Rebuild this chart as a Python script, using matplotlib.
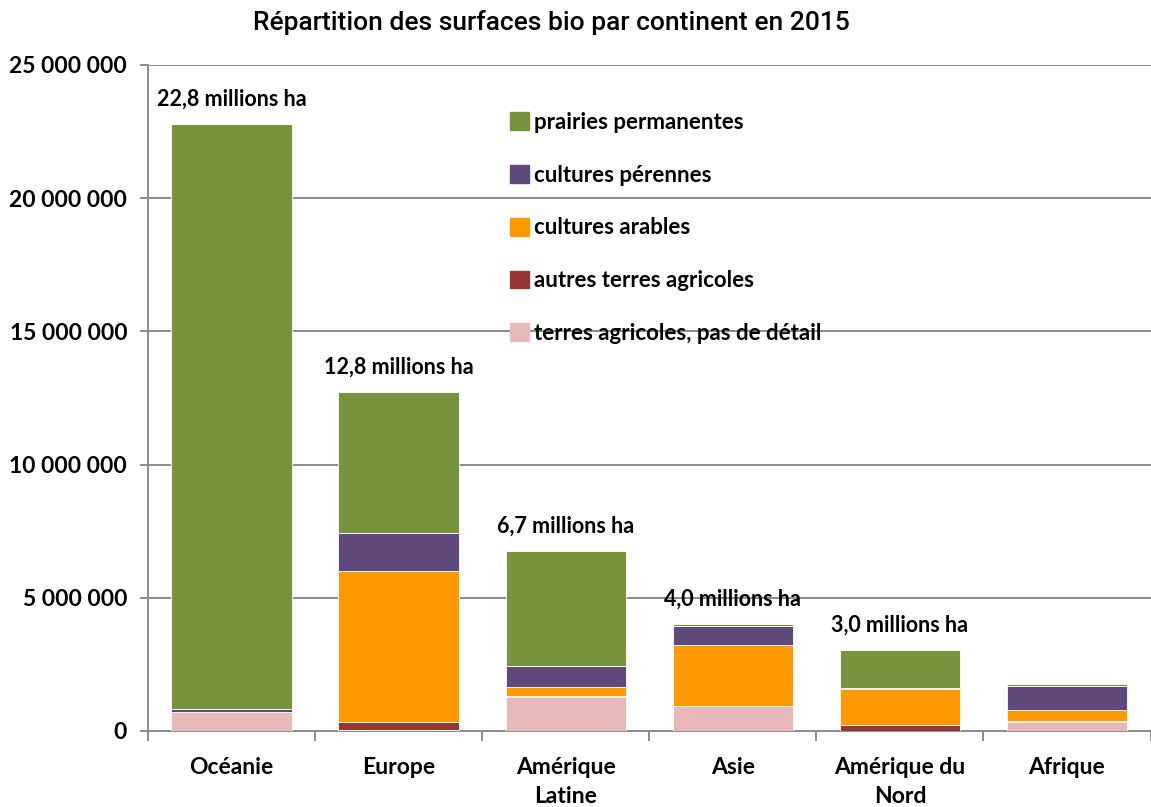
import numpy as np
import matplotlib
matplotlib.use("Agg")
import matplotlib.pyplot as plt
from matplotlib.patches import Patch
from matplotlib.ticker import FuncFormatter, FixedLocator

# ── data (millions d'hectares) ───────────────────────────────────────────────
continents = ["Océanie", "Europe", "Amérique\nLatine", "Asie", "Amérique du\nNord", "Afrique"]
terres_sans_detail = [0.72, 0.05, 1.26, 0.95, 0.00, 0.35]
autres_terres      = [0.00, 0.30, 0.06, 0.00, 0.24, 0.01]
cultures_arables   = [0.00, 5.67, 0.32, 2.28, 1.34, 0.42]
cultures_perennes  = [0.12, 1.40, 0.80, 0.72, 0.05, 0.92]
prairies           = [21.96, 5.32, 4.32, 0.07, 1.41, 0.06]
total_labels = ["22,8 millions ha", "12,8 millions ha", "6,7 millions ha",
                "4,0 millions ha", "3,0 millions ha", ""]

series = [
    ("terres agricoles, pas de détail", terres_sans_detail, "#E6B9B8"),
    ("autres terres agricoles",         autres_terres,      "#953735"),
    ("cultures arables",                cultures_arables,   "#FF9900"),
    ("cultures pérennes",               cultures_perennes,  "#604A7B"),
    ("prairies permanentes",            prairies,           "#77933C"),
]

FONT = ["Lato", "DejaVu Sans"]
plt.rcParams["font.family"] = FONT

fig = plt.figure(figsize=(11.51, 8.07), dpi=100)
ax = fig.add_axes([0.1286, 0.0942, 0.871, 0.8253])

x = np.arange(len(continents))
bottom = np.zeros(len(continents))
for label, vals, color in series:
    v = np.array(vals) * 1e6
    ax.bar(x, v, bottom=bottom, width=0.72, color=color, edgecolor="white",
           linewidth=0.6, label=label, zorder=3)
    bottom += v

for xi, top, txt in zip(x, bottom, total_labels):
    if txt:
        ax.annotate(txt, (xi, top), xytext=(0, 10), textcoords="offset points",
                    ha="center", va="bottom", fontsize=15.5, fontweight="bold")

ax.set_xlim(-0.5, len(continents) - 0.5)
ax.set_ylim(0, 25e6)
ax.set_yticks(np.arange(0, 25e6 + 1, 5e6))
ax.yaxis.set_major_formatter(FuncFormatter(lambda v, p: f"{int(v):,}".replace(",", " ")))
ax.grid(axis="y", color="#8c8c8c", linewidth=1.4, zorder=0)

ax.set_xticks(x)
ax.set_xticklabels(continents, fontsize=16.5, fontweight="bold", linespacing=1.45)
ax.xaxis.set_minor_locator(FixedLocator(np.arange(-0.5, len(continents), 1)))
ax.tick_params(axis="x", which="major", length=0, pad=19)
ax.tick_params(axis="x", which="minor", length=7, color="#8c8c8c", width=1.4)
ax.tick_params(axis="y", length=6, color="#8c8c8c", width=1.4, labelsize=16.5, pad=9)
for t in ax.get_yticklabels():
    t.set_fontweight("bold")

for s in ["top", "right"]:
    ax.spines[s].set_visible(False)
for s in ["left", "bottom"]:
    ax.spines[s].set_color("#8c8c8c")
    ax.spines[s].set_linewidth(1.4)

handles = [Patch(color=c, label=l) for l, _, c in series][::-1]
leg = ax.legend(handles=handles, loc="upper left", bbox_to_anchor=(0.352, 0.943),
                frameon=False, prop={"size": 16, "weight": "bold"},
                labelspacing=1.43, handlelength=0.85, handleheight=0.85,
                handletextpad=0.25, borderaxespad=0)

fig.text(0.479, 0.972, "Répartition des surfaces bio par continent en 2015",
         ha="center", va="center", fontsize=19, fontweight="medium",
         family=["Roboto", "DejaVu Sans"])

fig.savefig("out.png", dpi=100)
